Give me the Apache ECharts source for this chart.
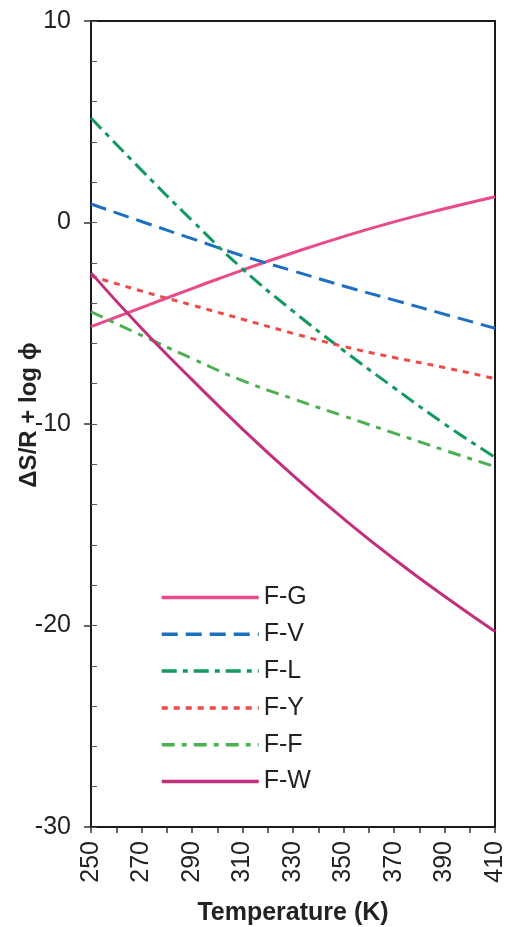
<!DOCTYPE html>
<html>
<head>
<meta charset="utf-8">
<script src="https://cdn.jsdelivr.net/npm/echarts@6/dist/echarts.min.js"></script>
<style>
  html, body { margin: 0; padding: 0; background: #fff; }
  #chart { width: 506px; height: 927px; }
</style>
</head>
<body>
<div id="chart"></div>
<script>
// temperature (K)
const temps = [250, 270, 290, 310, 330, 350, 370, 390, 410];

// ΔS/R + log ϕ
const fG = [-5.17, -4.22, -3.28, -2.36, -1.5, -0.7, 0.03, 0.68, 1.28];
const fV = [0.92, 0.05, -0.8, -1.65, -2.4, -3.15, -3.85, -4.55, -5.25];
const fL = [5.19, 2.6, 0.1, -2.3, -4.4, -6.35, -8.2, -10.0, -11.65];
const fY = [-2.66, -3.4, -4.1, -4.8, -5.5, -6.15, -6.7, -7.2, -7.75];
const fF = [-4.43, -5.6, -6.75, -7.85, -8.75, -9.6, -10.45, -11.3, -12.12];
const fW = [-2.5, -5.25, -7.8, -10.25, -12.55, -14.7, -16.7, -18.55, -20.3];

const xTicks = [250, 410, 10];   // min, max, step
const yTicks = [-30, 10, 10];

const FONT = "'Liberation Sans', Arial, 'DejaVu Sans', sans-serif";

function pair(ys) {
  return temps.map((t, i) => [t, ys[i]]);
}

function line(name, ys, color, dash) {
  return {
    name,
    type: "line",
    data: pair(ys),
    smooth: true,
    symbol: "none",
    lineStyle: { color, width: 3, type: dash },
    itemStyle: { color },
  };
}

const chart = echarts.init(document.getElementById("chart"), null, { renderer: "canvas" });

chart.setOption({
  animation: false,
  backgroundColor: "#fff",
  grid: {
    left: 91, right: 11, top: 21, bottom: 100,
    outerBoundsMode: "none",
    containLabel: false,
    show: true, borderColor: "#1a1a1a", borderWidth: 2,
  },
  legend: {
    orient: "vertical",
    left: 160,
    top: 585,
    padding: 0,
    itemWidth: 97,
    itemHeight: 14,
    itemGap: 11.8,
    itemStyle: { opacity: 0 },
    lineStyle: { width: 3.5 },
    textStyle: { fontFamily: FONT, fontSize: 25, color: "#222" },
    data: ["F-G", "F-V", "F-L", "F-Y", "F-F", "F-W"],
  },
  xAxis: {
    type: "value",
    min: xTicks[0], max: xTicks[1], interval: xTicks[2],
    name: "Temperature (K)",
    nameLocation: "middle",
    nameMoveOverlap: false,
    nameGap: 74,
    nameTextStyle: { fontFamily: FONT, fontSize: 25, fontWeight: "bold", color: "#222" },
    axisLine: { onZero: false, lineStyle: { color: "#1a1a1a", width: 2 } },
    axisTick: { show: true, length: 6, lineStyle: { color: "#333", width: 1.5 } },
    axisLabel: {
      rotate: 90,
      margin: 14,
      fontFamily: FONT, fontSize: 25, color: "#222",
      formatter: (v) => ((v - xTicks[0]) % 20 === 0 ? String(v) : ""),
    },
    splitLine: { show: false },
  },
  yAxis: [
    {
      type: "value",
      min: yTicks[0], max: yTicks[1], interval: yTicks[2],
      name: "ΔS/R + log ϕ",
      nameLocation: "middle",
      nameMoveOverlap: false,
      nameGap: 50,
      nameTextStyle: {
        fontFamily: FONT, fontSize: 24, fontWeight: "bold", color: "#222",
        padding: [0, 0, 0, 18],
      },
      axisLine: { show: true, lineStyle: { color: "#1a1a1a", width: 2 } },
      axisTick: { show: true, length: 7, lineStyle: { color: "#333", width: 1.5 } },
      axisLabel: { margin: 20, fontFamily: FONT, fontSize: 25, color: "#222" },
      splitLine: { show: false },
    },
    {
      // minor ticks pointing into the plot
      type: "value",
      position: "left",
      min: yTicks[0], max: yTicks[1], interval: 2,
      axisLine: { show: false },
      axisTick: { show: true, inside: true, length: 6, lineStyle: { color: "#555", width: 1 } },
      axisLabel: { show: false },
      splitLine: { show: false },
    },
  ],
  series: [
    line("F-G", fG, "#e84a8a", "solid"),
    line("F-V", fV, "#1d6fc2", [16, 8]),
    line("F-L", fL, "#109a5e", [15, 6, 5, 6]),
    line("F-Y", fY, "#ef4a4a", [6, 6]),
    line("F-F", fF, "#4caf50", [13, 7, 5, 7]),
    line("F-W", fW, "#c2307c", "solid"),
  ],
});
</script>
</body>
</html>
